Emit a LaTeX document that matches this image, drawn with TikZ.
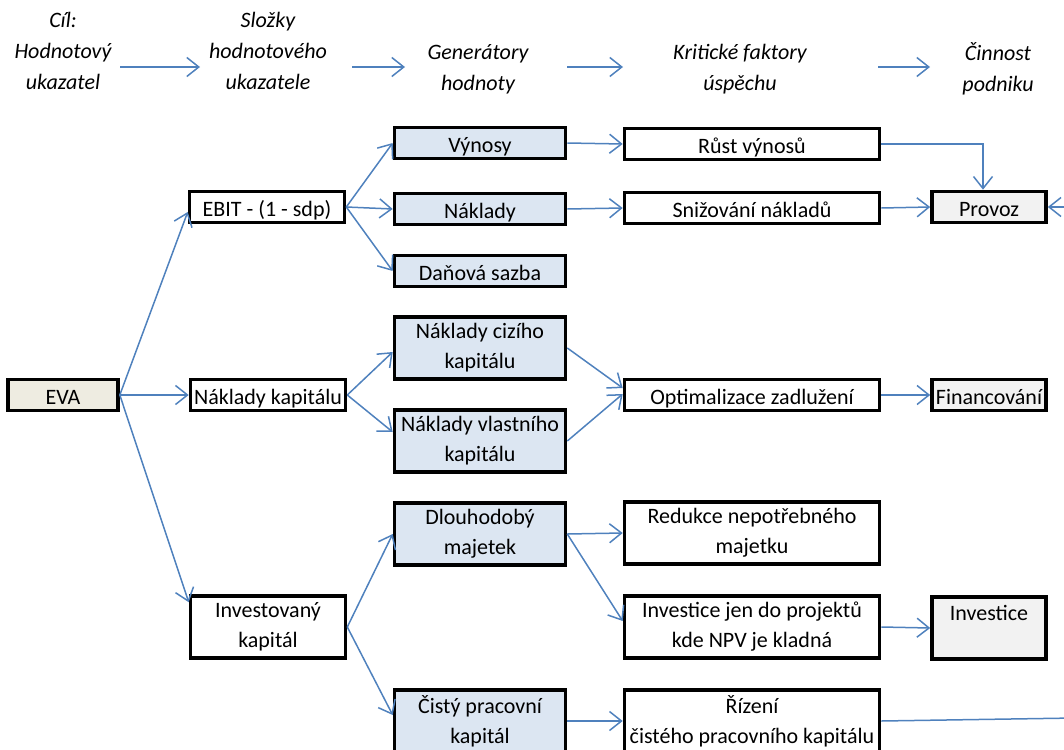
\documentclass[tikz,border=0pt]{standalone}
\usepackage{fontspec}
\setmainfont{Carlito}
\usetikzlibrary{arrows.meta}

\definecolor{arrblue}{HTML}{4F81BD}
\definecolor{genblue}{HTML}{DCE6F2}
\definecolor{evabeige}{HTML}{EEECE1}
\definecolor{actgray}{HTML}{F2F2F2}

\tikzset{
	box/.style={draw, line width=1.8pt, align=center, inner sep=0pt, minimum height=15.5pt,
		text height=11pt, text depth=2pt, font=\fontsize{11}{15}\selectfont},
	tall/.style={minimum height=31pt, text height={}, text depth={}},
	colA/.style={box, minimum width=77.5pt},
	colB/.style={box, minimum width=85.5pt, fill=genblue},
	colC/.style={box, minimum width=127.5pt},
	colD/.style={box, minimum width=57pt, fill=actgray},
	head/.style={align=center, font=\fontsize{11}{15.5}\selectfont\itshape},
	arr/.style={draw=arrblue, line width=0.75pt, -{Straight Barb[length=6pt,width=9.5pt,line width=0.75pt]}},
	lin/.style={draw=arrblue, line width=0.75pt}
}

\begin{document}
\begin{tikzpicture}[x=0.5pt, y=-0.5pt]
	\useasboundingbox (0,0) rectangle (1064,749);
	\clip (0,0) rectangle (1064,749);

	\node[head] (h1) at (63,51)		{Cíl:\\Hodnotový\\ukazatel};
	\node[head] (h2) at (268,51)	{Složky\\hodnotového\\ukazatele};
	\node[head] (h3) at (478,69)	{Generátory\\hodnoty};
	\node[head] (h4) at (740,69)	{Kritické faktory\\úspěchu};
	\node[head] (h5) at (998,69)	{Činnost\\podniku};
	\coordinate (a1) at (120,67);	\coordinate (b1) at (200,67);
	\coordinate (a2) at (352,67);	\coordinate (b2) at (405,67);
	\coordinate (a3) at (567,67);	\coordinate (b3) at (623,67);
	\coordinate (a4) at (878,67);	\coordinate (b4) at (930,67);

	\node[box, minimum width=55pt, fill=evabeige] (eva) at (63,395) {EVA};

	\node[colA]			(ebit) at (267,207)	{EBIT - (1 - sdp)};
	\node[colA]			(nk) at (268,395)	{Náklady kapitálu};
	\node[colA, tall]	(ik) at (268,627)	{Investovaný\\kapitál};

	\node[colB]			(vyn) at (480,143)	{Výnosy};
	\node[colB]			(nak) at (480,209)	{Náklady};
	\node[colB]			(dan) at (480,271)	{Daňová sazba};
	\node[colB, tall]	(nck) at (480,348)	{Náklady cizího\\kapitálu};
	\node[colB, tall]	(nvk) at (480,441)	{Náklady vlastního\\kapitálu};
	\node[colB, tall]	(dm) at (480,534)	{Dlouhodobý\\majetek};
	\node[colB, tall]	(cpk) at (480,721)	{Čistý pracovní\\kapitál};

	\node[colC]			(rust) at (752,144)	{Růst výnosů};
	\node[colC]			(sniz) at (752,208)	{Snižování nákladů};
	\node[colC]			(opt) at (752,395)	{Optimalizace zadlužení};
	\node[colC, tall]	(red) at (752,533)	{Redukce nepotřebného\\majetku};
	\node[colC, tall]	(invjen) at (752,627)	{Investice jen do projektů\\kde NPV je kladná};
	\node[colC, tall]	(riz) at (752,721)	{Řízení\\čistého pracovního kapitálu};

	\node[colD]			(provoz) at (989,207)	{Provoz};
	\node[colD]			(fin) at (989,395)	{Financování};
	\node[colD, tall]	(inv) at (989,628)	{Investice\\\mbox{}};

	\coordinate (outR) at (1075,207);
	\coordinate (outB) at (1075,718);

	\draw[arr] (a1) -- (b1);
	\draw[arr] (a2) -- (b2);
	\draw[arr] (a3) -- (b3);
	\draw[arr] (a4) -- (b4);

	\draw[arr] (eva.east) -- ([yshift=-2.5pt]ebit.west);
	\draw[arr] (eva.east) -- (nk.west);
	\draw[arr] (eva.east) -- ([yshift=-4pt]ik.north west);

	\draw[arr] (ebit.east) -- (vyn.west);
	\draw[arr] (ebit.east) -- (nak.west);
	\draw[arr] (ebit.east) -- (dan.west);
	\draw[arr] (nk.east) -- ([yshift=-2pt]nck.west);
	\draw[arr] (nk.east) -- ([yshift=4.5pt]nvk.west);
	\draw[arr] (ik.east) -- (dm.west);
	\draw[arr] (ik.east) -- ([yshift=3pt]cpk.west);

	\draw[arr] (vyn.east) -- (rust.west);
	\draw[arr] (nak.east) -- (sniz.west);
	\draw[arr] (nck.east) -- ([yshift=3.5pt]opt.west);
	\draw[arr] (nvk.east) -- ([yshift=0.5pt]opt.west);
	\draw[arr] (dm.east) -- (red.west);
	\draw[arr] (dm.east) -- ([yshift=3pt]invjen.west);
	\draw[arr] (cpk.east) -- (riz.west);

	\draw[arr] (rust.east) -| ([xshift=-3pt]provoz.north);
	\draw[arr] (sniz.east) -- (provoz.west);
	\draw[arr] (outR) -- (provoz.east);
	\draw[arr] (opt.east) -- (fin.west);
	\draw[arr] (invjen.east) -- (inv.west);
	\draw[lin] (riz.east) -- (outB);
\end{tikzpicture}
\end{document}
